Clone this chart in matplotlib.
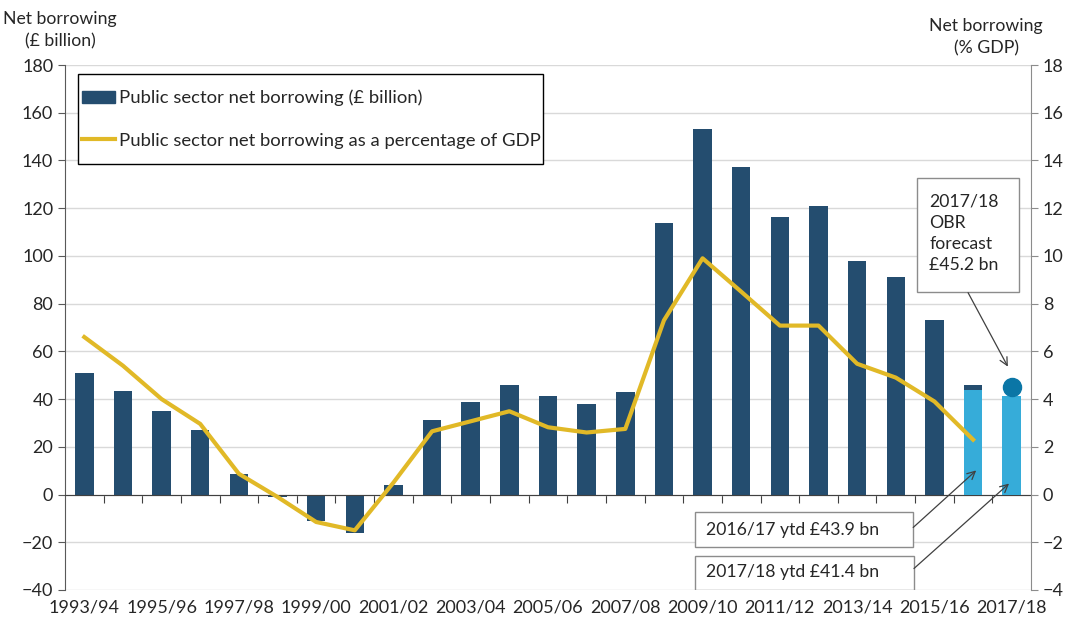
import matplotlib.pyplot as plt
import numpy as np
from matplotlib.patches import Rectangle, Patch
from matplotlib.lines import Line2D

# data
years = ['1993/94', '1994/95', '1995/96', '1996/97', '1997/98', '1998/99',
         '1999/00', '2000/01', '2001/02', '2002/03', '2003/04', '2004/05',
         '2005/06', '2006/07', '2007/08', '2008/09', '2009/10', '2010/11',
         '2011/12', '2012/13', '2013/14', '2014/15', '2015/16', '2016/17',
         '2017/18']
# full-year net borrowing, 1993/94 to 2016/17 (£ billion)
psnb_bn = [51.1, 43.5, 35.2, 27.2, 8.5, -1.0, -11.2, -16.3, 3.9, 31.4,
           38.7, 46.0, 41.4, 37.8, 43.0, 113.9, 153.3, 137.3, 116.4, 121.0,
           98.0, 91.2, 73.0, 46.1]
# net borrowing as % of GDP, 1993/94 to 2016/17
psnb_pct_gdp = [6.6, 5.4, 4.0, 2.96, 0.87, -0.1, -1.15, -1.5, 0.5, 2.65,
                3.07, 3.49, 2.82, 2.6, 2.75, 7.3, 9.9, 8.5, 7.08, 7.08,
                5.48, 4.9, 3.9, 2.3]
ytd_years = ['2016/17', '2017/18']
ytd_bn = [43.9, 41.4]
obr_year = '2017/18'
obr_forecast_bn = 45.2
left_ticks = list(range(-40, 181, 20))
right_ticks = list(range(-4, 19, 2))

DARK = '#244D6F'
LIGHT = '#36ACD9'
DOT = '#0B76A6'
GOLD = '#E1B927'
TXT = '#262626'

plt.rcParams['font.family'] = ['Lato', 'DejaVu Sans']
plt.rcParams['font.size'] = 13

fig = plt.figure(figsize=(10.72, 6.3), dpi=100)
ax = fig.add_axes([0.0606, 0.0635, 0.9012, 0.8333])
ax2 = ax.twinx()

x = np.arange(len(years))
ax.bar(x[:len(psnb_bn)], psnb_bn, width=0.48, color=DARK, zorder=2)
ytd_x = [years.index(y) for y in ytd_years]
ax.bar(ytd_x, ytd_bn, width=0.48, color=LIGHT, zorder=3)
ax.plot(years.index(obr_year), obr_forecast_bn, 'o', ms=13, color=DOT, zorder=4)
ax2.plot(x[:len(psnb_pct_gdp)], psnb_pct_gdp, color=GOLD, lw=3,
         solid_joinstyle='round')

ax.set_xlim(-0.5, len(years) - 0.5)
ax.set_ylim(-40, 180)
ax2.set_ylim(-4, 18)
ax.set_yticks(left_ticks)
ax2.set_yticks(right_ticks)
ax.grid(axis='y', color='#D9D9D9', lw=1)
ax.set_axisbelow(True)

# category boundary ticks on the zero line, labels at the bottom
ax.set_xticks(np.arange(0.5, len(years) - 1, 1))
ax.set_xticklabels([])
ax.tick_params(axis='x', direction='out', length=6, color='#404040')
for i, lab in enumerate(years):
    if i % 2 == 0:
        ax.text(i, -0.018, lab, transform=ax.get_xaxis_transform(),
                ha='center', va='top', color=TXT, fontsize=13)

ax.spines['bottom'].set_position(('data', 0))
ax.spines['bottom'].set_color('#404040')
ax.spines['left'].set_color('#595959')
ax.spines['top'].set_visible(False)
ax.spines['right'].set_visible(False)
for s in ['top', 'left', 'bottom']:
    ax2.spines[s].set_visible(False)
ax2.spines['right'].set_color('#8C8C8C')
ax.tick_params(axis='y', length=5, color='#595959', labelcolor=TXT, labelsize=13)
ax2.tick_params(axis='y', length=5, color='#8C8C8C', labelcolor=TXT, labelsize=13)

fig.text(60 / 1072, 1 - 30 / 630, 'Net borrowing\n(£ billion)', ha='center',
         va='center', linespacing=1.45, color=TXT, fontsize=12.7)
fig.text(986 / 1072, 1 - 37 / 630, 'Net borrowing\n(% GDP)', ha='center',
         va='center', linespacing=1.45, color=TXT, fontsize=12.7)

# legend box
ax2.add_patch(Rectangle((0.0135, 0.811), 0.4815, 0.172, transform=ax2.transAxes,
                        facecolor='white', edgecolor='black', lw=1, zorder=4))
handles = [Patch(color=DARK), Line2D([], [], color=GOLD, lw=3)]
labels = ['Public sector net borrowing (£ billion)',
          'Public sector net borrowing as a percentage of GDP']
leg = ax2.legend(handles, labels, loc='center left',
                 bbox_to_anchor=(0.0175, 0.811, 0.47, 0.172),
                 borderaxespad=0, frameon=False, handlelength=1.8,
                 handleheight=0.6, handletextpad=0.2, labelspacing=1.43,
                 borderpad=0, fontsize=13.3)
leg.set_zorder(5)
for t in leg.get_texts():
    t.set_color(TXT)

# callout boxes (data coords of the left axis)
boxes = [
    ((15.8, -21.8), 5.65, 14.3, f'{ytd_years[0]} ytd £{ytd_bn[0]} bn',
     (16.09, -14.9), (21.45, -13.8), (23.08, 10.1)),
    ((15.8, -39.8), 5.67, 14.2, f'{ytd_years[1]} ytd £{ytd_bn[1]} bn',
     (16.09, -32.6), (21.47, -31.0), (23.93, 4.6)),
    ((21.54, 84.9), 2.66, 47.8, f'{obr_year}\nOBR\nforecast\n£{obr_forecast_bn} bn',
     (21.87, 109.4), (22.87, 84.6), (23.9, 53.6)),
]
for (bx, by), bw, bh, txt, tpos, a0, a1 in boxes:
    ax.add_patch(Rectangle((bx, by), bw, bh, facecolor='white',
                           edgecolor='#8C8C8C', lw=1, zorder=5))
    ax.text(tpos[0], tpos[1], txt, ha='left', va='center', color=TXT,
            fontsize=12.7, linespacing=1.4, zorder=6)
    ax.annotate('', xy=a1, xytext=a0, zorder=6,
                arrowprops=dict(arrowstyle='->', color='#404040', lw=0.9,
                                shrinkA=0, shrinkB=0, mutation_scale=14))

fig.savefig('out.png', dpi=100)
